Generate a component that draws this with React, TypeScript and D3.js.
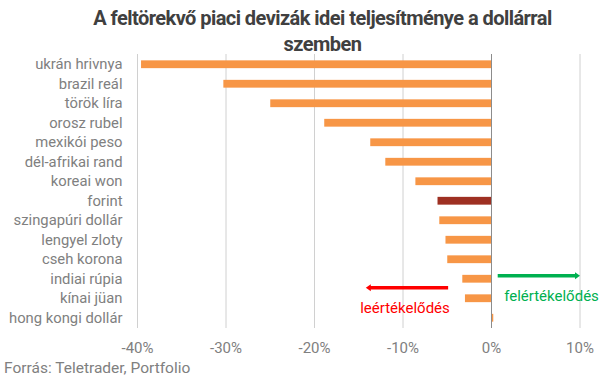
import React from "react";
import * as d3 from "d3";

const categories = [
  "ukrán hrivnya",
  "brazil reál",
  "török líra",
  "orosz rubel",
  "mexikói peso",
  "dél-afrikai rand",
  "koreai won",
  "forint",
  "szingapúri dollár",
  "lengyel zloty",
  "cseh korona",
  "indiai rúpia",
  "kínai jüan",
  "hong kongi dollár",
];
const values = [-39.6, -30.3, -25.0, -18.9, -13.7, -12.0, -8.6, -6.1, -5.9, -5.2, -5.0, -3.3, -3.0, 0.2];
const highlighted = ["forint"];
const ticks = [-40, -30, -20, -10, 0, 10];
const titleLines = ["A feltörekvő piaci devizák idei teljesítménye a dollárral", "szemben"];
const source = "Forrás: Teletrader, Portfolio";
const arrowLabels = { down: "leértékelődés", up: "felértékelődés" };
const arrowSpans = { down: [-4.9, -14.2], up: [0.7, 10] };

export default function App() {
  const W = 604, H = 381;
  const x = d3.scaleLinear().domain([-40, 10]).range([137.5, 580]);
  const y = d3.scaleBand().domain(categories).range([54.5, 327.5]).paddingInner(0.6).paddingOuter(0.3);
  const font = "Roboto, sans-serif";
  const grey = "#808080";
  const redY = 287.8, greenY = 275.7;
  return (
    <svg width={W} height={H} style={{ position: "absolute", left: 0, top: 0, background: "#fff" }} fontFamily={font}>
      {titleLines.map((t, i) => (
        <text key={i} x={322.5} y={25 + i * 26} textAnchor="middle" fontSize={20} fontWeight="bold" fill="#404040" letterSpacing={-0.55}>
          {t}
        </text>
      ))}
      {ticks.filter((t) => t !== 0).map((t) => (
        <line key={t} x1={x(t)} x2={x(t)} y1={54} y2={328} stroke="#d0d0d0" strokeWidth={1} />
      ))}
      {categories.map((c, i) => {
        const v = values[i];
        return (
          <rect
            key={c}
            x={Math.min(x(v), x(0))}
            width={Math.abs(x(v) - x(0))}
            y={y(c)}
            height={y.bandwidth()}
            fill={highlighted.includes(c) ? "#9e3022" : "#f79646"}
          />
        );
      })}
      <line x1={x(0)} x2={x(0)} y1={54} y2={328} stroke="#8c8c8c" strokeWidth={1} />
      {categories.map((c) => (
        <text key={c} x={122.5} y={(y(c) ?? 0) + y.bandwidth() / 2 + 5} textAnchor="end" fontSize={14.8} fill={grey}>
          {c}
        </text>
      ))}
      {ticks.map((t) => (
        <text key={t} x={x(t)} y={353} textAnchor="middle" fontSize={15} fill={grey}>
          {t}%
        </text>
      ))}
      <text x={4} y={373} fontSize={15.5} fill={grey}>{source}</text>
      {/* red arrow */}
      <line x1={x(arrowSpans.down[0])} x2={x(arrowSpans.down[1]) + 4} y1={redY} y2={redY} stroke="#ff0000" strokeWidth={3.5} />
      <path d={`M${x(arrowSpans.down[1])},${redY} l5,-3.5 l0,7 z`} fill="#ff0000" />
      <text x={405} y={313} textAnchor="middle" fontSize={15} fill="#ff0000">{arrowLabels.down}</text>
      {/* green arrow */}
      <line x1={x(arrowSpans.up[0])} x2={x(arrowSpans.up[1]) - 4} y1={greenY} y2={greenY} stroke="#00b050" strokeWidth={3.5} />
      <path d={`M${x(arrowSpans.up[1])},${greenY} l-5,-3.5 l0,7 z`} fill="#00b050" />
      <text x={551.5} y={301} textAnchor="middle" fontSize={15} fill="#00b050">{arrowLabels.up}</text>
    </svg>
  );
}
